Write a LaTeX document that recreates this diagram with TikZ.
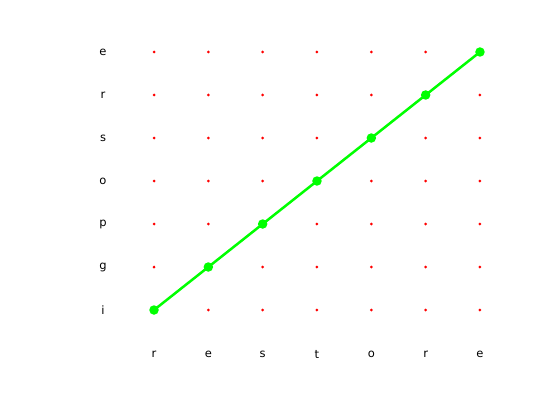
\documentclass[tikz,border=0pt]{standalone}
\usepackage{fontspec}
\setmainfont{DejaVu Sans}
\usetikzlibrary{positioning}

\begin{document}
\begin{tikzpicture}[x=1pt,y=-1pt,
  gridpt/.style={circle,fill=red,inner sep=0pt,minimum size=3pt},
  pathpt/.style={circle,fill=green,inner sep=0pt,minimum size=9.5pt},
  lbl/.style={font=\fontsize{11.5}{13}\selectfont,inner sep=0pt},
  bestpath/.style={green,line width=2.5pt}
]
\useasboundingbox (0,0) rectangle (560,420);
% axis letters
\foreach \c [count=\i from 0] in {r,e,s,t,o,r,e}
  \node[lbl] (col\i) at ({154+54.33*\i},354) {\c};
\foreach \r [count=\j from 0] in {i,g,p,o,s,r,e}
  \node[lbl] (row\j) at (103,{310-43*\j}) {\r};
% grid of cells
\foreach \i in {0,...,6}
  \foreach \j in {0,...,6}
    \node[gridpt] (p\i\j) at ({154+54.33*\i},{310-43*\j}) {};
% best path
\foreach \i in {0,...,6}
  \node[pathpt] (d\i) at (p\i\i) {};
\draw[bestpath] (d0.center) -- (d1.center) -- (d2.center) -- (d3.center)
  -- (d4.center) -- (d5.center) -- (d6.center);
\end{tikzpicture}
\end{document}
